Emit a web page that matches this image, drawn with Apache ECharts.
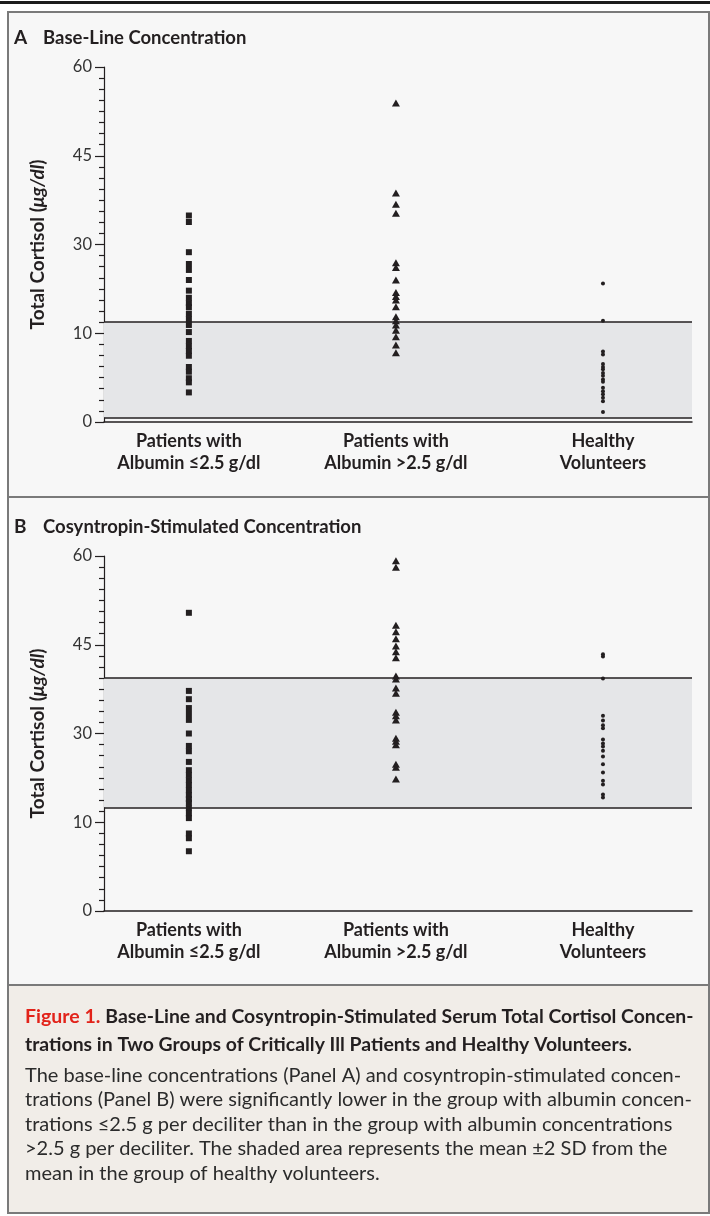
<!DOCTYPE html>
<html lang="en">
  <head>
    <meta charset="UTF-8" />
    <title>Total cortisol concentrations</title>
    <script src="https://cdn.jsdelivr.net/npm/echarts@6/dist/echarts.min.js"></script>
    <style>
      html, body { margin: 0; padding: 0; background: #ffffff; }
      .box { width: 710px; height: 1216px; }
    </style>
  </head>
  <body>
    <div class="box"></div>
    <script>
      // groups on the x axis
      var categories = ["Patients with\nAlbumin \u22642.5 g/dl", "Patients with\nAlbumin >2.5 g/dl", "Healthy\nVolunteers"];
      // y ticks and the labels printed on them
      var yTickValues = [0, 15, 30, 45, 60];
      var yTickLabels = ["0", "10", "30", "45", "60"];

      // panel A: base-line concentration
      var baseLowAlb = [34.9, 33.8, 28.7, 26.7, 25.7, 24.0, 22.2, 21.0, 20.1, 19.4, 18.3, 17.4, 16.4, 15.2, 13.7, 12.8, 12.0, 11.2, 9.3, 8.5, 7.4, 6.7, 5.0];
      var baseHighAlb = [53.9, 38.7, 36.8, 35.3, 26.9, 26.1, 24.0, 21.9, 21.2, 20.6, 19.5, 17.8, 17.1, 16.4, 15.5, 14.4, 13.0, 11.7];
      var baseHealthy = [23.4, 17.1, 11.9, 11.4, 9.8, 9.3, 8.9, 8.3, 7.8, 7.2, 6.8, 5.8, 5.2, 4.7, 4.1, 3.5, 1.7];
      var baseBand = [0.7, 16.9];

      // panel B: cosyntropin-stimulated concentration
      var stimLowAlb = [50.4, 37.2, 35.8, 34.3, 33.3, 32.3, 30.0, 27.9, 27.0, 25.2, 23.8, 23.0, 22.1, 21.3, 20.4, 19.6, 18.9, 18.3, 17.4, 16.5, 15.7, 13.1, 12.3, 10.1];
      var stimHighAlb = [59.2, 58.1, 48.3, 47.2, 46.0, 44.8, 43.8, 42.8, 39.7, 39.2, 37.7, 36.8, 33.6, 33.0, 32.3, 29.2, 28.7, 28.1, 24.8, 24.3, 22.3];
      var stimHealthy = [43.4, 43.0, 39.3, 33.0, 32.2, 31.4, 30.9, 29.0, 28.3, 27.8, 27.1, 26.1, 24.8, 23.4, 22.0, 21.4, 19.7, 19.2];
      var stimBand = [17.5, 39.4];

      var ink = "#231f20";
      var font = "Lato";

      function toPoints(idx, list) {
        return list.map(function (v) { return [idx, v]; });
      }

      function xAxisFor(gridIndex) {
        return {
          type: "value",
          gridIndex: gridIndex,
          min: -0.41,
          max: 2.43,
          axisLine: { show: true, onZero: false, lineStyle: { color: ink, width: 1.5 } },
          axisTick: { show: false },
          splitLine: { show: false },
          axisLabel: {
            customValues: [0, 1, 2],
            formatter: function (v) { return categories[Math.round(v)]; },
            color: ink,
            fontFamily: font,
            fontWeight: "bold",
            fontSize: 18,
            lineHeight: 22,
            margin: 8,
          },
        };
      }

      function yAxisFor(gridIndex) {
        return {
          type: "value",
          gridIndex: gridIndex,
          min: 0,
          max: 60,
          interval: 15,
          name: "{b|Total Cortisol (}{i|\u03bcg/dl}{b|)}",
          nameLocation: "middle",
          nameRotate: 90,
          nameGap: 57,
          nameTextStyle: {
            rich: {
              b: { fontFamily: font, fontWeight: "bold", fontSize: 19, color: ink },
              i: { fontFamily: font, fontWeight: "bold", fontStyle: "italic", fontSize: 19, color: ink },
            },
          },
          axisLine: { show: true, onZero: false, lineStyle: { color: ink, width: 1.2 } },
          axisTick: { show: true, length: 9, lineStyle: { color: ink, width: 1.2 } },
          minorTick: { show: true, splitNumber: 8, length: 5, lineStyle: { color: ink, width: 1.2 } },
          splitLine: { show: false },
          axisLabel: {
            formatter: function (v) { return yTickLabels[yTickValues.indexOf(v)]; },
            color: "#333333",
            fontFamily: font,
            fontSize: 16.5,
            margin: 12,
          },
        };
      }

      // shaded band (mean +/- 2 SD of volunteers) on an empty helper series
      function bandSeries(axisIndex, band) {
        return {
          type: "scatter",
          xAxisIndex: axisIndex,
          yAxisIndex: axisIndex,
          data: [],
          z: 1,
          silent: true,
          markArea: {
            silent: true,
            itemStyle: { color: "#e5e6e8" },
            data: [[{ yAxis: band[0] }, { yAxis: band[1] }]],
          },
          markLine: {
            silent: true,
            symbol: "none",
            label: { show: false },
            lineStyle: { color: ink, type: "solid", width: 1.5 },
            data: [{ yAxis: band[0] }, { yAxis: band[1] }],
          },
        };
      }

      function dots(axisIndex, idx, list, symbol, size) {
        return {
          type: "scatter",
          xAxisIndex: axisIndex,
          yAxisIndex: axisIndex,
          data: toPoints(idx, list),
          symbol: symbol,
          symbolSize: size,
          itemStyle: { color: ink, opacity: 1 },
          z: 5,
        };
      }

      var chart = echarts.init(document.getElementsByClassName("box")[0], null, { renderer: "canvas" });

      var option = {
        animation: false,
        backgroundColor: "#ffffff",
        graphic: [
          { type: "rect", z: -10, shape: { x: 0, y: 1, width: 710, height: 3 }, style: { fill: "#1d1d1d" } },
          { type: "rect", z: -10, shape: { x: 8, y: 12, width: 701, height: 973 }, style: { fill: "#f7f7f7", stroke: "#7a7a7a", lineWidth: 2 } },
          { type: "line", z: -9, shape: { x1: 8, y1: 497, x2: 710, y2: 497 }, style: { stroke: "#7a7a7a", lineWidth: 2 } },
          { type: "rect", z: -10, shape: { x: 8, y: 985, width: 701, height: 228 }, style: { fill: "#f1ede8", stroke: "#7a7a7a", lineWidth: 2 } },
        ],
        title: [
          { text: "A", left: 14, top: 28, padding: 0, textStyle: { fontFamily: font, fontWeight: "bold", fontSize: 19, color: ink } },
          { text: "Base-Line Concentration", left: 43, top: 29, padding: 0, textStyle: { fontFamily: font, fontWeight: "bold", fontSize: 18.5, color: ink } },
          { text: "B", left: 14, top: 517, padding: 0, textStyle: { fontFamily: font, fontWeight: "bold", fontSize: 19, color: ink } },
          { text: "Cosyntropin-Stimulated Concentration", left: 43, top: 518, padding: 0, textStyle: { fontFamily: font, fontWeight: "bold", fontSize: 18.5, color: ink } },
          {
            text: "{r|Figure 1.} {h|Base-Line and Cosyntropin-Stimulated Serum Total Cortisol Concen-}\n{h|trations in Two Groups of Critically Ill Patients and Healthy Volunteers.}",
            left: 25,
            top: 1003,
            padding: 0,
            textStyle: {
              lineHeight: 28,
              rich: {
                r: { fontFamily: font, fontSize: 19.5, color: "#e2231a", lineHeight: 28 },
                h: { fontFamily: font, fontWeight: "bold", fontSize: 19.4, color: ink, lineHeight: 28 },
              },
            },
          },
          {
            text:
              "The base-line concentrations (Panel A) and cosyntropin-stimulated concen-\n" +
              "trations (Panel B) were significantly lower in the group with albumin concen-\n" +
              "trations \u22642.5 g per deciliter than in the group with albumin concentrations\n" +
              ">2.5 g per deciliter. The shaded area represents the mean \u00b12 SD from the\n" +
              "mean in the group of healthy volunteers.",
            left: 25,
            top: 1063,
            padding: 0,
            textStyle: { fontFamily: font, fontWeight: "normal", fontSize: 20, lineHeight: 24.5, color: "#2b2b2b" },
          },
        ],
        grid: [
          { left: 104, right: 18, top: 67, height: 355 },
          { left: 104, right: 18, top: 556, height: 355 },
        ],
        xAxis: [xAxisFor(0), xAxisFor(1)],
        yAxis: [yAxisFor(0), yAxisFor(1)],
        series: [
          bandSeries(0, baseBand),
          dots(0, 0, baseLowAlb, "rect", [6, 6]),
          dots(0, 1, baseHighAlb, "triangle", [8, 7]),
          dots(0, 2, baseHealthy, "circle", 4),
          bandSeries(1, stimBand),
          dots(1, 0, stimLowAlb, "rect", [6, 6]),
          dots(1, 1, stimHighAlb, "triangle", [8, 7]),
          dots(1, 2, stimHealthy, "circle", 4),
        ],
      };

      chart.setOption(option);
    </script>
  </body>
</html>
